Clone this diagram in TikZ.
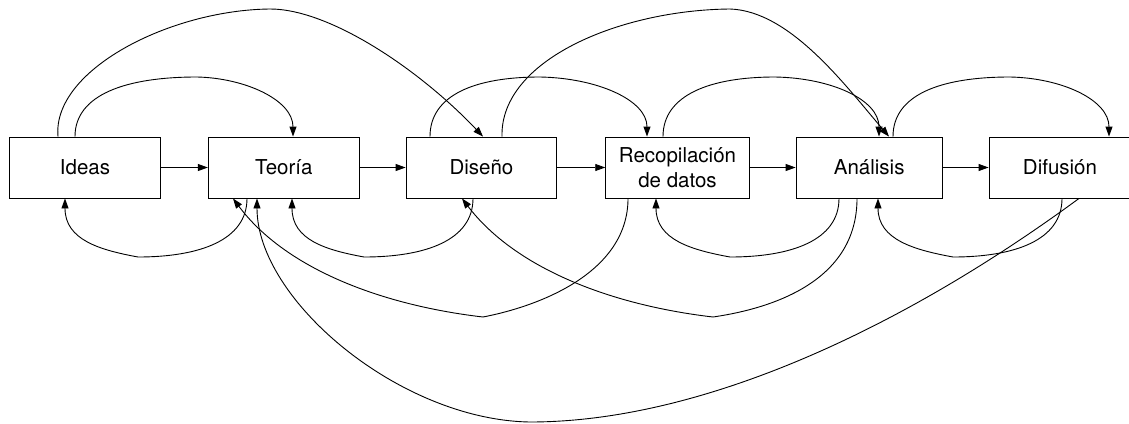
\documentclass[tikz,border=0pt]{standalone}
\usepackage{fontspec}
\setmainfont{TeX Gyre Heros}
\usetikzlibrary{arrows.meta}

\tikzset{
  stage/.style={draw=black, line width=0.9pt, minimum height=61pt, inner sep=0pt,
    align=center, font=\fontsize{20.5}{25}\selectfont},
  link/.style={draw=black, line width=0.9pt, -{Triangle[length=10pt,width=7pt]}},
}

\begin{document}
\begin{tikzpicture}[x=1pt, y=-1pt]
\useasboundingbox (0,0) rectangle (1129,423);

% research stages
\node[stage, minimum width=150.7pt] (ideas)    at (85,167.5)    {Ideas};
\node[stage, minimum width=151pt]   (teoria)   at (283.8,167.5) {Teoría};
\node[stage, minimum width=150.7pt] (diseno)   at (481.4,167.5) {Diseño};
\node[stage, minimum width=143.6pt] (recop)    at (677.5,167.5) {Recopilación\\de datos};
\node[stage, minimum width=146.3pt] (analisis) at (869.2,167.5) {Análisis};
\node[stage, minimum width=142pt]   (difusion) at (1060,167.5)  {Difusión};

% main sequence
\draw[link] (ideas.east)    -- (teoria.west);
\draw[link] (teoria.east)   -- (diseno.west);
\draw[link] (diseno.east)   -- (recop.west);
\draw[link] (recop.east)    -- (analisis.west);
\draw[link] (analisis.east) -- (difusion.west);

% forward jumps over the top
\draw[link] ([xshift=-10pt]ideas.north)
  .. controls (75,95) and (125,77) .. (197,77)
  .. controls (245,78) and (293,100) .. ([xshift=9.2pt]teoria.north);
\draw[link] ([xshift=-27pt]ideas.north)
  .. controls (52,70) and (170,10) .. (270,9)
  .. controls (330,9) and (420,70) .. ([xshift=1.6pt]diseno.north);
\draw[link] ([xshift=-51.4pt]diseno.north)
  .. controls (430,95) and (475,77) .. (540,77)
  .. controls (597,78) and (647,100) .. ([xshift=-30.5pt]recop.north);
\draw[link] ([xshift=20.6pt]diseno.north)
  .. controls (500,60) and (620,10) .. (730,9)
  .. controls (790,11) and (845,85) .. ([xshift=19.8pt]analisis.north);
\draw[link] ([xshift=-14.5pt]recop.north)
  .. controls (663,95) and (710,77) .. (775,77)
  .. controls (832,78) and (879,100) .. ([xshift=9.8pt]analisis.north);
\draw[link] ([xshift=23.8pt]analisis.north)
  .. controls (893,95) and (940,77) .. (1010,77)
  .. controls (1062,78) and (1109,100) .. ([xshift=49pt]difusion.north);

% short feedback loops underneath
\draw[link] ([xshift=-36.8pt]teoria.south)
  .. controls (247,240) and (200,257) .. (138,257)
  .. controls (100,250) and (65,240) .. ([xshift=-20pt]ideas.south);
\draw[link] ([xshift=-8.4pt]diseno.south)
  .. controls (473,240) and (426,257) .. (364,257)
  .. controls (326,250) and (292,240) .. ([xshift=8.2pt]teoria.south);
\draw[link] ([xshift=-30.2pt]analisis.south)
  .. controls (839,240) and (792,257) .. (730,257)
  .. controls (692,250) and (656,240) .. ([xshift=-21.5pt]recop.south);
\draw[link] ([xshift=2pt]difusion.south)
  .. controls (1062,240) and (1015,257) .. (953,257)
  .. controls (915,250) and (878,240) .. ([xshift=8.8pt]analisis.south);

% long feedback loops
\draw[link] ([xshift=-49.5pt]recop.south)
  .. controls (628,270) and (545,305) .. (483,317)
  .. controls (380,305) and (285,268) .. ([xshift=-50.8pt]teoria.south);
\draw[link] ([xshift=-12.2pt]analisis.south)
  .. controls (857,280) and (775,308) .. (713,317)
  .. controls (610,305) and (515,268) .. ([xshift=-19.4pt]diseno.south);
\draw[link] ([xshift=19pt]difusion.south)
  .. controls (900,330) and (700,422) .. (530,422)
  .. controls (400,420) and (257,300) .. ([xshift=-26.8pt]teoria.south);
\end{tikzpicture}
\end{document}
